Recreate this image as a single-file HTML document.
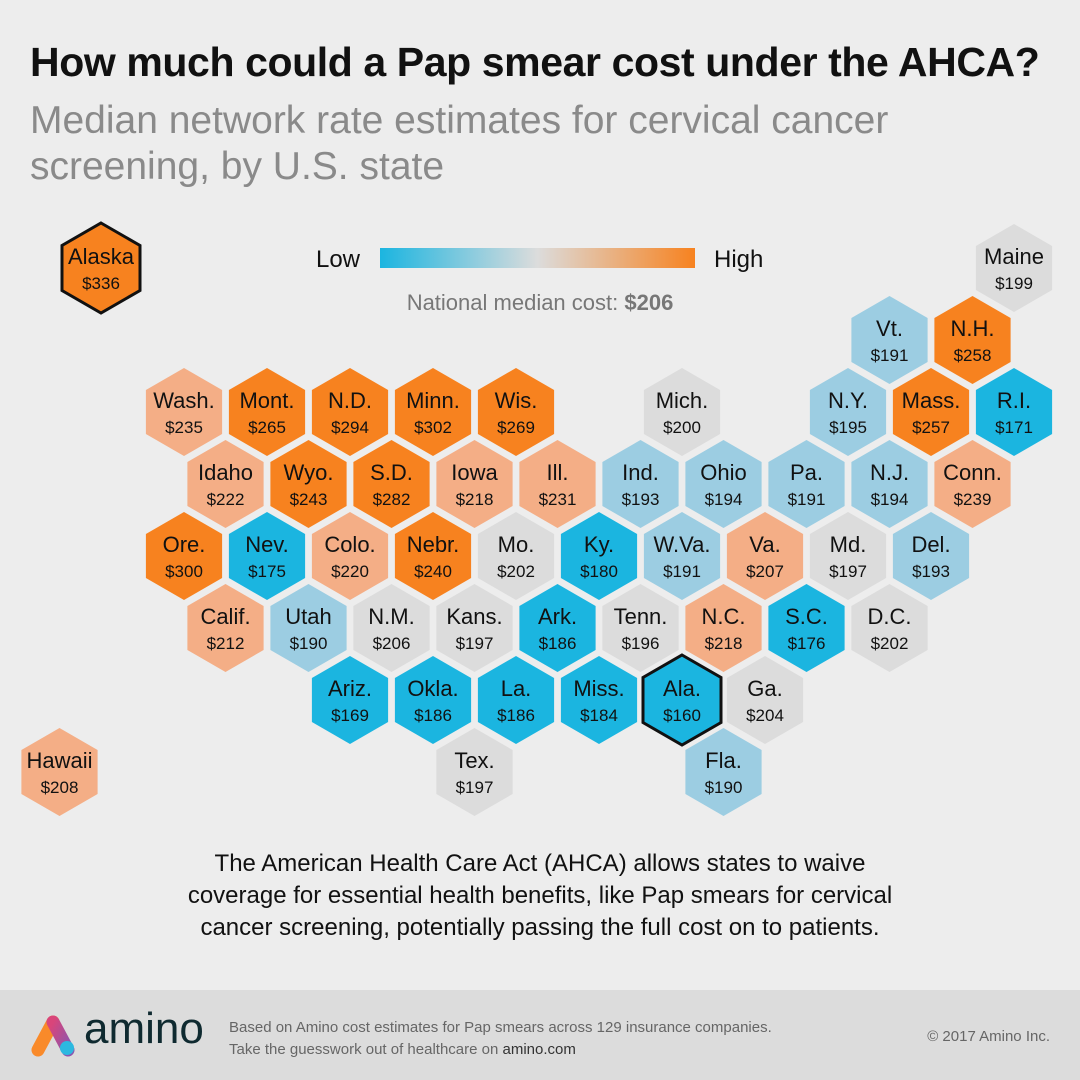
<!DOCTYPE html>
<html><head><meta charset="utf-8"><style>
body{margin:0;width:1080px;height:1080px;background:#ededed;font-family:"Liberation Sans",sans-serif;position:relative;overflow:hidden}
.t{position:absolute;margin:0}
</style></head><body>
<h1 class="t" style="left:30px;top:39px;font-size:41px;font-weight:bold;color:#111;letter-spacing:-0.4px;white-space:nowrap">How much could a Pap smear cost under the AHCA?</h1>
<div class="t" style="left:30px;top:98px;font-size:39px;line-height:46px;color:#8a8a8a;width:900px">Median network rate estimates for cervical cancer screening, by U.S. state</div>
<svg width="1080" height="860" style="position:absolute;left:0;top:190px" viewBox="0 190 1080 860">
<defs><linearGradient id="g" x1="0" x2="1"><stop offset="0" stop-color="#1bb5e0"/><stop offset="0.5" stop-color="#dcdcdc"/><stop offset="1" stop-color="#f7821f"/></linearGradient></defs>
<text x="360" y="267" font-size="24" text-anchor="end" fill="#111" font-family="Liberation Sans">Low</text>
<rect x="380" y="248" width="315" height="20" fill="url(#g)"/>
<text x="714" y="267" font-size="24" fill="#111" font-family="Liberation Sans">High</text>
<text x="540" y="310" font-size="22" text-anchor="middle" fill="#777" font-family="Liberation Sans">National median cost: <tspan font-weight="bold">$206</tspan></text>
<g id="hexes"></g>
</svg>
<div class="t" style="left:0;top:848px;width:1080px;text-align:center;font-size:24px;line-height:32px;color:#111">The American Health Care Act (AHCA) allows states to waive<br>coverage for essential health benefits, like Pap smears for cervical<br>cancer screening, potentially passing the full cost on to patients.</div>
<div style="position:absolute;left:0;top:990px;width:1080px;height:90px;background:#dcdcdc">
<svg width="50" height="50" style="position:absolute;left:28px;top:20px" viewBox="0 0 50 50">
<defs><linearGradient id="lg" x1="0" y1="0" x2="1" y2="1"><stop offset="0" stop-color="#d9457a"/><stop offset="1" stop-color="#8a56b0"/></linearGradient></defs>
<line x1="10" y1="40" x2="25" y2="12" stroke="#f98a2a" stroke-width="13" stroke-linecap="round"/>
<line x1="25" y1="12" x2="40" y2="40" stroke="url(#lg)" stroke-width="13" stroke-linecap="round"/>
<circle cx="39" cy="38" r="7" fill="#2cb8e0"/></svg>
<div class="t" style="left:84px;top:14px;font-size:44px;color:#0f2a30">amino</div>
<div class="t" style="left:229px;top:27px;font-size:15px;line-height:22px;color:#666">Based on Amino cost estimates for Pap smears across 129 insurance companies.<br>Take the guesswork out of healthcare on <b style="color:#333;font-weight:normal">amino.com</b></div>
<div class="t" style="right:30px;top:38px;font-size:15px;color:#666">© 2017 Amino Inc.</div>
</div>
<script>
const states=["Alaska","Maine","Vt.","N.H.","Wash.","Mont.","N.D.","Minn.","Wis.","Mich.","N.Y.","Mass.","R.I.","Idaho","Wyo.","S.D.","Iowa","Ill.","Ind.","Ohio","Pa.","N.J.","Conn.","Ore.","Nev.","Colo.","Nebr.","Mo.","Ky.","W.Va.","Va.","Md.","Del.","Calif.","Utah","N.M.","Kans.","Ark.","Tenn.","N.C.","S.C.","D.C.","Ariz.","Okla.","La.","Miss.","Ala.","Ga.","Tex.","Fla.","Hawaii"];
const costs=[336,199,191,258,235,265,294,302,269,200,195,257,171,222,243,282,218,231,193,194,191,194,239,300,175,220,240,202,180,191,207,197,193,212,190,206,197,186,196,218,176,202,169,186,186,184,160,204,197,190,208];
const gridRows=[-2,-2,-1,-1,0,0,0,0,0,0,0,0,0,1,1,1,1,1,1,1,1,1,1,2,2,2,2,2,2,2,2,2,2,3,3,3,3,3,3,3,3,3,4,4,4,4,4,4,5,5,5];
const gridCols=[-1,10,8,9,0,1,2,3,4,6,8,9,10,0,1,2,3,4,5,6,7,8,9,0,1,2,3,4,5,6,7,8,9,0,1,2,3,4,5,6,7,8,2,3,4,5,6,7,3,6,-2];
const highlighted=["Alaska","Ala."];
const X0=184,DX=83,Y0=412,DY=72,R=46;
function hx(r,c){return X0+c*DX+((r%2+2)%2?DX/2:0);}
function hy(r){return Y0+r*DY;}
function color(v){if(v>=240)return"#f7821f";if(v>=207)return"#f4ae86";if(v>=196)return"#dcdcdc";if(v>=187)return"#9ccde2";return"#1bb5e0";}
const g=document.getElementById('hexes');const NS="http://www.w3.org/2000/svg";
states.forEach((s,i)=>{
 const cx=hx(gridRows[i],gridCols[i]),cy=hy(gridRows[i]);
 const hl=highlighted.includes(s);const rr=hl?R-1:R-2;
 const pts=[];for(let k=0;k<6;k++){const a=Math.PI/180*(60*k-90);pts.push((cx+rr*Math.cos(a)).toFixed(1)+","+(cy+rr*Math.sin(a)).toFixed(1));}
 const gr=document.createElementNS(NS,'g');
 
 
 const p=document.createElementNS(NS,'polygon');
 p.setAttribute('points',pts.join(' '));p.setAttribute('fill',color(costs[i]));
 if(hl){p.setAttribute('stroke','#111');p.setAttribute('stroke-width','3');}
 gr.appendChild(p);
 const t1=document.createElementNS(NS,'text');t1.setAttribute('x',cx);t1.setAttribute('y',cy-4);t1.setAttribute('text-anchor','middle');t1.setAttribute('font-size','22');t1.setAttribute('fill','#111');t1.setAttribute('font-family','Liberation Sans');t1.textContent=s;gr.appendChild(t1);
 const t2=document.createElementNS(NS,'text');t2.setAttribute('x',cx);t2.setAttribute('y',cy+21);t2.setAttribute('text-anchor','middle');t2.setAttribute('font-size','17');t2.setAttribute('fill','#111');t2.setAttribute('font-family','Liberation Sans');t2.textContent='$'+costs[i];gr.appendChild(t2);
 g.appendChild(gr);
});
</script>
</body></html>
